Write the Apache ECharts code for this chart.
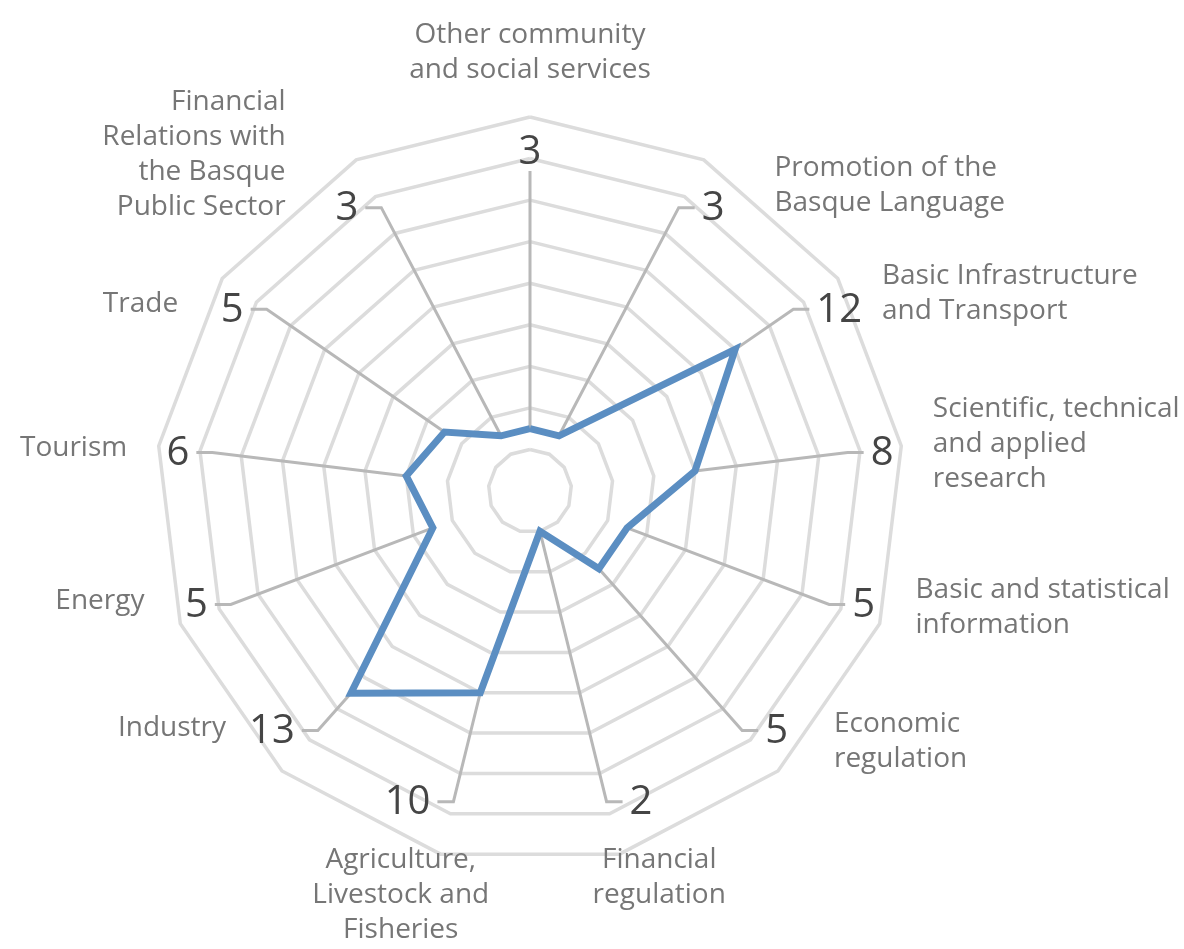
<!DOCTYPE html>
<html>
<head>
<meta charset="utf-8">
<title>Radar</title>
<script src="https://cdn.jsdelivr.net/npm/echarts@6/dist/echarts.min.js"></script>
<style>
  html, body { margin: 0; padding: 0; background: #fff; }
  #chart { width: 1184px; height: 949px; }
</style>
</head>
<body>
<div id="chart"></div>
<script>
// categories, clockwise starting at the top
const categories = [
  "Other community\nand social services",
  "Promotion of the\nBasque Language",
  "Basic Infrastructure\nand Transport",
  "Scientific, technical\nand applied\nresearch",
  "Basic and statistical\ninformation",
  "Economic\nregulation",
  "Financial\nregulation",
  "Agriculture,\nLivestock and\nFisheries",
  "Industry",
  "Energy",
  "Tourism",
  "Trade",
  "Financial\nRelations with\nthe Basque\nPublic Sector"
];
const values = [3, 3, 12, 8, 5, 5, 2, 10, 13, 5, 6, 5, 3];
const axisMax = 18;
const splitCount = 9;

const CENTER = [530, 491];
const RADIUS = 374;
const LEADER_R = 15.4; // axis units, where the callout lines bend
const FONT = '"Open Sans", "Noto Sans", sans-serif';
const NAME_LH = 35;

// radar lays indicators out counter-clockwise, so feed it in reverse
const radarOrder = categories.map((_, i) => (categories.length - i) % categories.length);

const chart = echarts.init(document.getElementById("chart"));

// callout line + value label + category name, all placed from the polar coords
function renderCallout(params, api) {
  const i = api.value(1);
  const v = api.value(0);
  const c = api.coord([0, i]);
  const p0 = api.coord([v, i]);
  const p1 = api.coord([LEADER_R, i]);
  const len = Math.hypot(p1[0] - c[0], p1[1] - c[1]);
  const sin = (p1[0] - c[0]) / len;
  const cos = -(p1[1] - c[1]) / len;
  const side = Math.abs(sin) < 0.1 ? 0 : (sin > 0 ? 1 : -1);

  const p2 = [p1[0] + side * 16, p1[1]];
  const numStyle = side === 0
    ? { x: p1[0], y: p1[1] + 2, align: "center", verticalAlign: "bottom" }
    : { x: p2[0] + side * 7, y: p2[1] + 1, align: side > 0 ? "left" : "right", verticalAlign: "middle" };

  const name = categories[params.dataIndex];
  const h = name.split("\n").length * NAME_LH;
  let nameStyle;
  if (Math.abs(sin) >= 0.4) {
    nameStyle = {
      x: c[0] + side * (300 * Math.abs(sin) + 105),
      y: c[1] - 340 * cos - 4 - (h / 2 - NAME_LH) * cos,
      align: side > 0 ? "left" : "right",
      verticalAlign: "middle"
    };
  } else if (cos > 0) {
    nameStyle = { x: c[0] + 540 * sin, y: c[1] - 403 * cos, align: "center", verticalAlign: "bottom" };
  } else {
    nameStyle = { x: c[0] + 540 * sin, y: c[1] - 362 * cos, align: "center", verticalAlign: "top" };
  }

  return {
    type: "group",
    children: [
      {
        type: "polyline",
        shape: { points: side === 0 ? [p0, p1] : [p0, p1, p2] },
        style: { stroke: "#b8b8b8", lineWidth: 3, fill: null, lineJoin: "miter" }
      },
      {
        type: "text",
        style: Object.assign({
          text: String(v),
          fill: "#454545",
          fontSize: 40,
          fontFamily: FONT
        }, numStyle)
      },
      {
        type: "text",
        style: Object.assign({
          text: name,
          fill: "#767676",
          fontSize: 28,
          lineHeight: NAME_LH,
          fontFamily: FONT
        }, nameStyle)
      }
    ]
  };
}

chart.setOption({
  animation: false,
  backgroundColor: "#ffffff",
  radar: {
    center: CENTER,
    radius: RADIUS,
    startAngle: 90,
    shape: "polygon",
    splitNumber: splitCount,
    indicator: radarOrder.map((i) => ({ name: categories[i], min: 0, max: axisMax })),
    axisName: { show: false },
    axisLine: { show: false },
    axisTick: { show: false },
    axisLabel: { show: false },
    splitLine: { lineStyle: { color: "#dcdcdc", width: 3.5 } },
    splitArea: { show: false }
  },
  polar: {
    center: CENTER,
    radius: RADIUS
  },
  angleAxis: {
    type: "value",
    min: 0,
    max: categories.length,
    startAngle: 90,
    show: false
  },
  radiusAxis: {
    type: "value",
    min: 0,
    max: axisMax,
    show: false
  },
  series: [
    {
      type: "custom",
      coordinateSystem: "polar",
      silent: true,
      z: 2,
      data: values.map((v, i) => [v, i]),
      renderItem: renderCallout
    },
    {
      type: "radar",
      z: 3,
      symbol: "none",
      silent: true,
      lineStyle: { color: "#5b8ec2", width: 7, join: "miter", miterLimit: 4 },
      itemStyle: { color: "#5b8ec2" },
      data: [{ value: radarOrder.map((i) => values[i]), name: "Values" }]
    }
  ]
});

window.addEventListener("resize", () => chart.resize());
</script>
</body>
</html>
